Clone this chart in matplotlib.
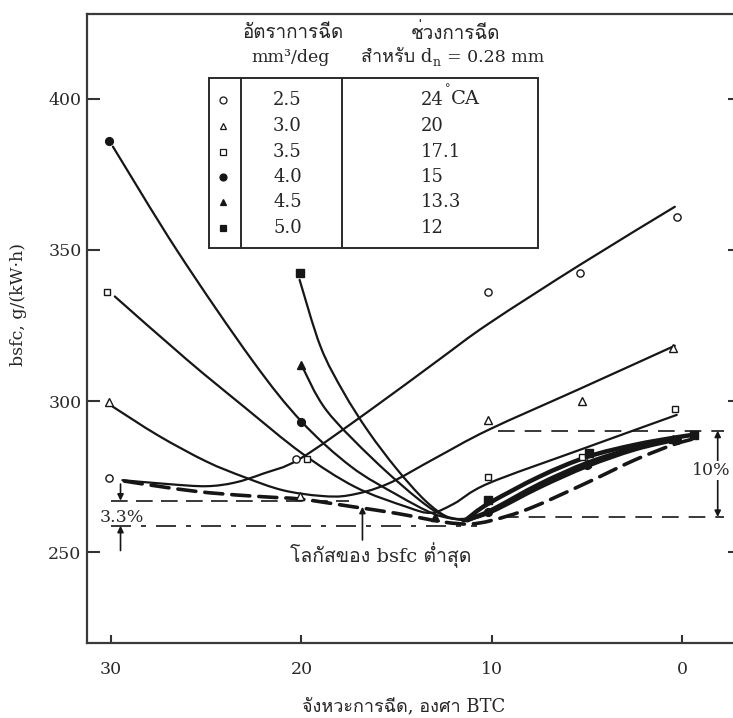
import numpy as np
import matplotlib
matplotlib.use("Agg")
import matplotlib.pyplot as plt
from matplotlib.path import Path
from matplotlib.patches import PathPatch, Rectangle
from matplotlib.lines import Line2D
from matplotlib import font_manager
from matplotlib.ft2font import FT2Font

# ---------------------------------------------------------------- data
# injection rate (mm^3/deg) and injection duration (deg CA) for d_n = 0.28 mm
rates = ["2.5", "3.0", "3.5", "4.0", "4.5", "5.0"]
durations = ["24", "20", "17.1", "15", "13.3", "12"]

# measured points: injection timing (deg BTC) vs bsfc (g/kWh)
x25_pts = [30.1, 20.3, 10.2, 5.4, 0.3]
y25_pts = [274.4, 280.8, 336.0, 342.3, 360.8]
x30_pts = [30.1, 20.1, 10.2, 5.3, 0.5]
y30_pts = [299.6, 268.5, 293.7, 300.1, 317.5]
x35_pts = [30.2, 19.7, 10.2, 5.3, 0.4]
y35_pts = [336.0, 280.8, 274.8, 281.6, 297.2]
x40_pts = [30.1, 20.0, 10.2, 5.0, 0.3]
y40_pts = [386.2, 293.2, 263.3, 278.8, 287.0]
x45_pts = [20.0, 13.0, 5.0, 0.5]
y45_pts = [311.9, 261.7, 279.5, 287.5]
x50_pts = [20.1, 10.2, 4.9, -0.6]
y50_pts = [342.3, 267.2, 282.7, 288.8]

# faired curves through each series (falling branch, then rising branch)
x25_curve = [29.4, 27.0, 25.0, 23.5, 22.0, 20.1, 16.5, 12.8, 10.2, 5.4, 0.4]
y25_curve = [273.8, 272.5, 271.8, 273.0, 276.0, 280.8, 296.5, 313.6, 325.5, 345.0, 364.3]
x30_curve = [29.9, 27.5, 25.0, 23.0, 21.0, 19.0, 17.5, 15.5, 13.0, 10.2, 5.4, 0.4]
y30_curve = [298.1, 288.5, 280.0, 274.8, 270.5, 268.6, 268.8, 272.5, 281.0, 290.4, 304.0, 318.3]
x35_curve = [29.8, 26.0, 23.0, 20.0, 17.2, 14.5, 13.2, 12.0, 10.2, 5.4, 0.3]
y35_curve = [334.6, 313.6, 298.0, 282.8, 271.6, 265.0, 263.0, 266.0, 272.7, 283.8, 295.4]
x40_fall = [29.9, 26.5, 22.6, 20.0, 17.4, 15.0, 13.0, 11.5]
y40_fall = [384.2, 349.5, 313.6, 293.2, 278.3, 269.0, 262.5, 260.5]
x40_rise = [11.5, 10.0, 7.5, 5.0, 2.5, 0.3]
y40_rise = [260.5, 263.5, 271.5, 278.5, 284.0, 287.3]
x45_fall = [20.0, 18.7, 16.2, 13.8, 12.5, 11.3]
y45_fall = [311.9, 297.0, 280.5, 267.2, 262.0, 260.5]
x45_rise = [11.3, 10.0, 7.5, 5.0, 2.5, 0.5]
y45_rise = [260.5, 264.0, 272.5, 279.5, 284.5, 287.5]
x50_fall = [20.1, 19.0, 17.8, 16.5, 15.0, 13.5, 12.3, 11.3]
y50_fall = [340.1, 318.0, 303.0, 290.0, 277.5, 267.0, 261.5, 261.0]
x50_rise = [11.3, 10.2, 7.5, 5.0, 2.5, 0.3, -0.6]
y50_rise = [261.0, 266.0, 275.0, 281.5, 285.5, 288.0, 288.8]

# locus of minimum bsfc
x_locus = [29.3, 27.0, 24.8, 22.0, 20.0, 17.3, 15.0, 12.6, 11.2, 10.0, 8.0, 5.0, 2.5, 0.5, -0.6]
y_locus = [273.5, 271.3, 269.6, 268.3, 267.5, 265.0, 262.8, 260.0, 259.3, 260.5, 264.5, 273.0, 280.5, 285.5, 287.5]

# reference levels for the 3.3 % and 10 % spreads
left_hi, left_lo = 267.0, 258.7
right_hi, right_lo = 290.2, 261.6

# ---------------------------------------------------------------- fonts
def find_thai_font():
    for f in font_manager.fontManager.ttflist:
        try:
            cmap = FT2Font(f.fname).get_charmap()
        except Exception:
            continue
        if 0x0E08 in cmap and 0x0E14 in cmap and 0x0E31 in cmap:
            return f.name
    return None

thai = find_thai_font()
FAMILY = ["DejaVu Serif"] + ([thai] if thai else []) + ["DejaVu Sans"]
plt.rcParams["font.family"] = FAMILY

INK = "#161616"

# ---------------------------------------------------------------- figure
W, H = 733, 718
fig = plt.figure(figsize=(W / 100, H / 100), dpi=100)
fig.patch.set_facecolor("white")

ax = fig.add_axes([87 / W, 1 - 643 / H, (740 - 87) / W, (643 - 14) / H])
ax.set_xlim(31.26, -3.02)
ax.set_ylim(219.9, 428.1)
ax.set_xticks([30, 20, 10, 0])
ax.set_yticks([250, 300, 350, 400])
for s in ax.spines.values():
    s.set_color("#3a3a3a")
    s.set_linewidth(1.6)
ax.tick_params(axis="both", direction="in", length=6, width=1.5,
               color="#333333", labelsize=12.5, labelcolor="#2a2a2a")
ax.tick_params(axis="x", pad=13)
ax.tick_params(axis="y", pad=4, right=True, length=9)


def smooth_path(xs, ys):
    pts = np.column_stack([xs, ys]).astype(float)
    ext = np.vstack([pts[0], pts, pts[-1]])
    verts = [pts[0]]
    codes = [Path.MOVETO]
    for i in range(len(pts) - 1):
        p0, p1, p2, p3 = ext[i], ext[i + 1], ext[i + 2], ext[i + 3]
        verts += [p1 + (p2 - p0) / 6.0, p2 - (p3 - p1) / 6.0, p2]
        codes += [Path.CURVE4] * 3
    return Path(verts, codes)


def draw_curve(xs, ys, lw=1.6, ls="solid"):
    ax.add_patch(PathPatch(smooth_path(xs, ys), fill=False, edgecolor=INK,
                           lw=lw, linestyle=ls, capstyle="round", zorder=3))


draw_curve(x25_curve, y25_curve)
draw_curve(x30_curve, y30_curve)
draw_curve(x35_curve, y35_curve)
draw_curve(x40_fall, y40_fall)
draw_curve(x45_fall, y45_fall)
draw_curve(x50_fall, y50_fall)
draw_curve(x40_rise, y40_rise, lw=3.2)
draw_curve(x45_rise, y45_rise, lw=3.2)
draw_curve(x50_rise, y50_rise, lw=3.2)
draw_curve(x_locus, y_locus, lw=2.6, ls=(0, (5, 2.5)))

mk = dict(ls="none", mec=INK, mew=1.0, zorder=5)
ax.plot(x25_pts, y25_pts, marker="o", mfc="white", ms=5.2, **mk)
ax.plot(x30_pts, y30_pts, marker="^", mfc="white", ms=5.2, **mk)
ax.plot(x35_pts, y35_pts, marker="s", mfc="white", ms=4.8, **mk)
ax.plot(x40_pts, y40_pts, marker="o", mfc=INK, ms=5.6, **mk)
ax.plot(x45_pts, y45_pts, marker="^", mfc=INK, ms=5.6, **mk)
ax.plot(x50_pts, y50_pts, marker="s", mfc=INK, ms=5.2, **mk)

# reference levels
ax.plot([30.0, 17.5], [left_hi, left_hi], color=INK, lw=1.2, ls=(0, (10, 5)), zorder=2)
ax.plot([30.0, 10.8], [left_lo, left_lo], color=INK, lw=1.2, ls=(0, (12, 6, 3, 6)), zorder=2)
ax.plot([9.7, -2.2], [right_hi, right_hi], color=INK, lw=1.2, ls=(0, (10, 6)), zorder=2)
ax.plot([9.5, -2.2], [right_lo, right_lo], color=INK, lw=1.2, ls=(0, (10, 6)), zorder=2)

arw = dict(arrowstyle="-|>", color=INK, lw=1.2, mutation_scale=9, shrinkA=0, shrinkB=0)
ax.annotate("", xy=(29.5, left_hi), xytext=(29.5, 272.5), arrowprops=arw)
ax.annotate("", xy=(29.5, left_lo), xytext=(29.5, 250.5), arrowprops=arw)
ax.text(30.6, 261.6, "3.3%", ha="left", va="center", fontsize=12.5, color="#2a2a2a")

ax.annotate("", xy=(-1.85, right_hi), xytext=(-1.85, right_lo),
            arrowprops=dict(arrowstyle="<|-|>", color=INK, lw=1.2,
                            mutation_scale=9, shrinkA=0, shrinkB=0))
ax.text(-2.5, 277.0, "10%", ha="right", va="center", fontsize=12.5, color="#2a2a2a",
        bbox=dict(facecolor="white", edgecolor="none", pad=0.8), zorder=6)

ax.annotate("", xy=(16.8, 265.0), xytext=(16.8, 254.0), arrowprops=arw)
ax.text(15.85, 249.0, "โลกัสของ bsfc ต่ำสุด", ha="center", va="center",
        fontsize=14, color="#2a2a2a")

# ---------------------------------------------------------------- overlay in pixel units
ov = fig.add_axes([0, 0, 1, 1], zorder=10)
ov.set_xlim(0, W)
ov.set_ylim(H, 0)
ov.axis("off")

TXT = "#262626"
ov.text(19, 305, "bsfc, g/(kW·h)", rotation=90, ha="center", va="center",
        fontsize=12.5, color=TXT)
ov.text(404, 706, "จังหวะการฉีด, องศา BTC", ha="center", va="center",
        fontsize=13, color=TXT)

# table headers
ov.text(293, 33, "อัตราการฉีด", ha="center", va="center", fontsize=13.5, color=TXT)
ov.text(291, 57, "mm³/deg", ha="center", va="center", fontsize=12.5, color=TXT)
ov.text(455, 33, "ช่วงการฉีด", ha="center", va="center", fontsize=13.5, color=TXT)
ov.text(432, 57, "สำหรับ d", ha="right", va="center", fontsize=13, color=TXT)
ov.text(433, 63, "n", ha="left", va="center", fontsize=9, color=TXT)
ov.text(447, 57, "= 0.28 mm", ha="left", va="center", fontsize=12.5, color=TXT)

# table body
tx0, tx1, ty0, ty1 = 209.3, 538.3, 78.3, 248.3
ov.add_patch(Rectangle((tx0, ty0), tx1 - tx0, ty1 - ty0, facecolor="white",
                       edgecolor="#2a2a2a", lw=1.4))
for xv in (241.0, 342.3):
    ov.add_line(Line2D([xv, xv], [ty0, ty1], color="#2a2a2a", lw=1.4))

row_y = [100, 126, 151.7, 177.3, 202.3, 227.7]
legend_marks = [("o", "white"), ("^", "white"), ("s", "white"),
                ("o", INK), ("^", INK), ("s", INK)]
for yy, (m, fc), r, d in zip(row_y, legend_marks, rates, durations):
    ov.plot([223.3], [yy], marker=m, mfc=fc, mec=INK, mew=0.9, ms=5, ls="none")
    ov.text(287.5, yy, r, ha="center", va="center", fontsize=13, color=TXT)
    ov.text(420.5, yy, d, ha="left", va="center", fontsize=13, color=TXT)
ov.text(444.5, 89, "°", ha="left", va="center", fontsize=8, color=TXT)
ov.text(451, 99, "CA", ha="left", va="center", fontsize=14, color=TXT)

fig.savefig("out.png", dpi=100, facecolor="white")
